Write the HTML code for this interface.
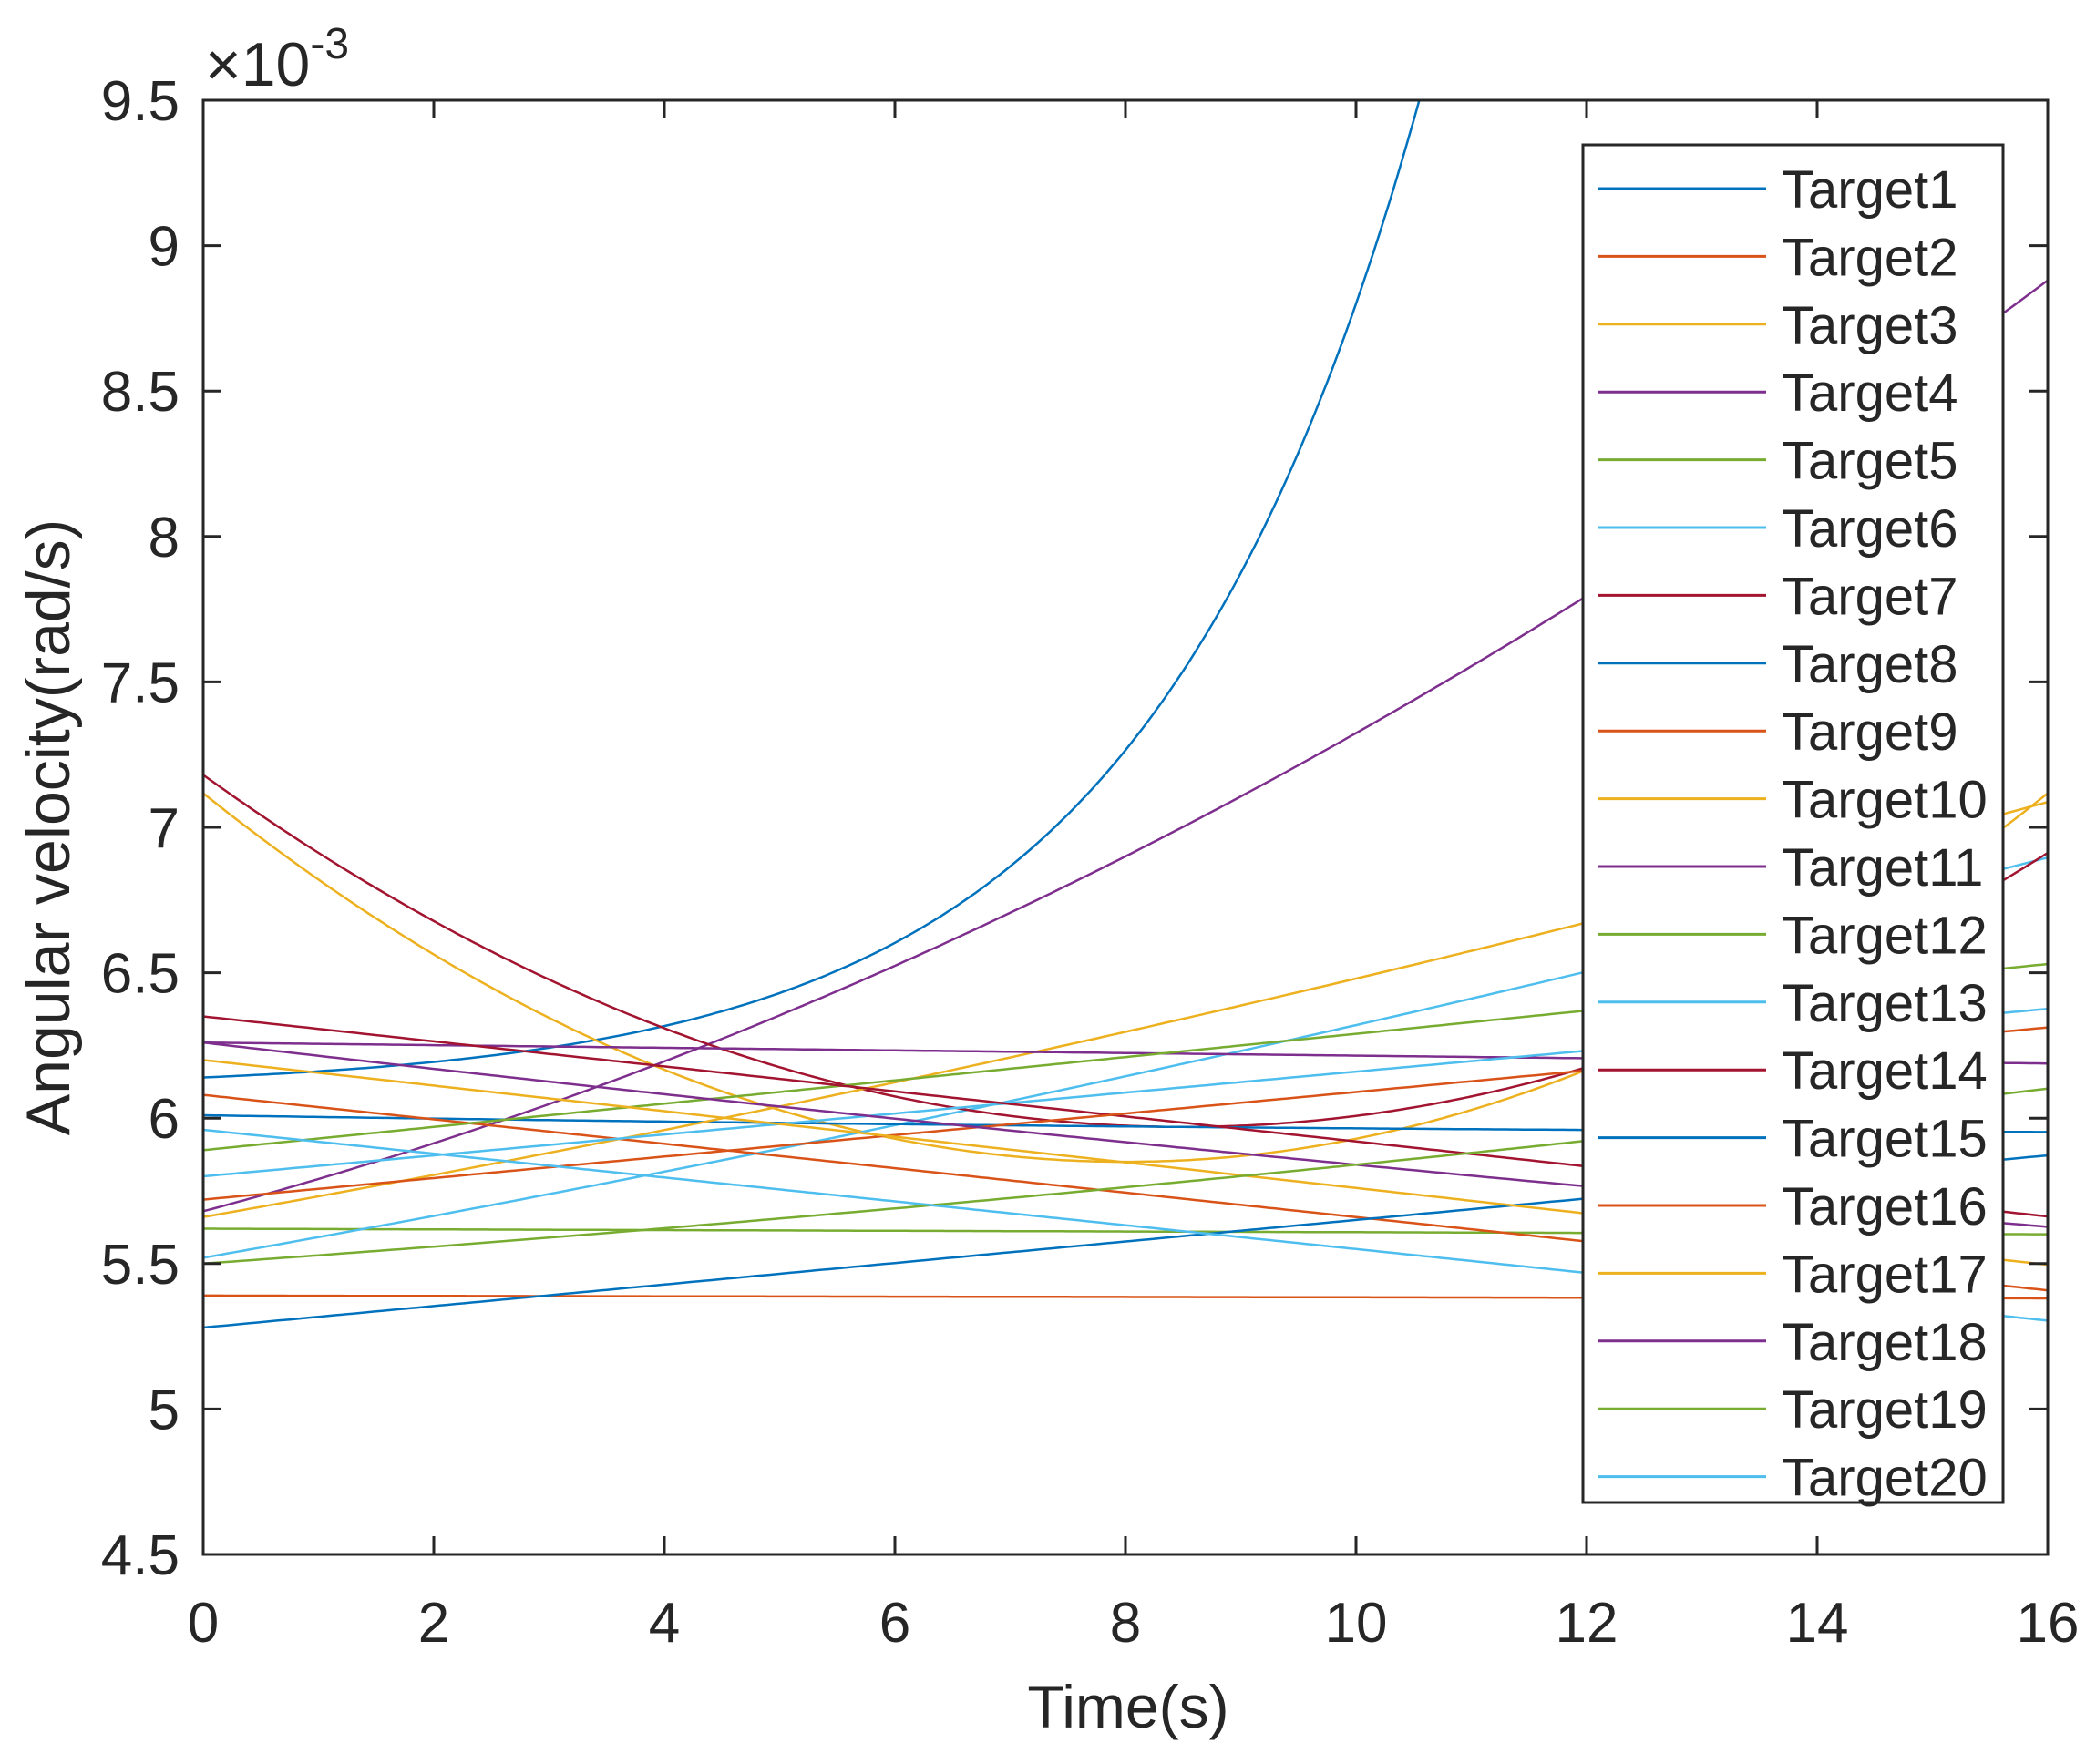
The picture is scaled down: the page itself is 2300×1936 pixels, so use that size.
<!DOCTYPE html>
<html><head><meta charset="utf-8"><style>
html,body{margin:0;padding:0;background:#fff}
svg text{font-family:"Liberation Sans",Arial,sans-serif;fill:#262626}
</style></head><body>
<svg id="s" width="2300" height="1931" viewBox="0 0 2300 1931" xmlns="http://www.w3.org/2000/svg">
<defs><clipPath id="c"><rect x="223" y="110" width="2024" height="1596"/></clipPath></defs>
<rect x="0" y="0" width="2300" height="1931" fill="#fff"/>
<g id="series" clip-path="url(#c)" fill="none" stroke-width="2.5"></g>
<g id="axes"></g>
<g id="legend"></g>
</svg>
<script>
var X0=223,X1=2247,Y0=110,Y1=1706;
function px(t){return X0+(X1-X0)*t/16}
function py(v){return Y1-(v-4.5)*(Y1-Y0)/5}
var C=['#0072BD','#D95319','#EDB120','#7E2F8E','#77AC30','#4DBEEE','#A2142F'];
var F=[
function(t){return 6.14+0.0405*(Math.exp(0.42*t)-1)},
function(t){return 5.39-0.0006*t},
function(t){return 0.0198*(t-8)*(t-8)+5.85},
function(t){return 5.68+0.105*t+0.00594*t*t},
function(t){return 5.62-0.0012*t},
function(t){return 5.52+0.07*t+0.001*t*t},
function(t){return 0.01675*(t-8.5)*(t-8.5)+5.97},
function(t){return 6.01-0.006*t+0.00015*t*t},
function(t){return 6.08-0.042*t},
function(t){return 5.66+0.07*t+0.0012*t*t},
function(t){return 6.26-0.0045*t},
function(t){return 5.89+0.04*t},
function(t){return 5.8+0.036*t},
function(t){return 6.35-0.043*t},
function(t){return 5.28+0.037*t},
function(t){return 5.72+0.037*t},
function(t){return 6.2-0.044*t},
function(t){return 6.26-0.046*t+0.0004*t*t},
function(t){return 5.5+0.028*t+0.0006*t*t},
function(t){return 5.96-0.041*t}
];
var NS='http://www.w3.org/2000/svg';
function el(n,a,p,txt){var e=document.createElementNS(NS,n);for(var k in a)e.setAttribute(k,a[k]);if(txt!==undefined)e.textContent=txt;p.appendChild(e);return e}
var sg=document.getElementById('series');
F.forEach(function(f,i){var d='';for(var k=0;k<=320;k++){var t=16*k/320;var v=f(t);if(v>10)v=10;d+=(k?'L':'M')+px(t).toFixed(1)+' '+py(v).toFixed(1)}
el('path',{d:d,stroke:C[i%7]},sg)});
var ax=document.getElementById('axes');
el('rect',{x:X0,y:Y0,width:X1-X0,height:Y1-Y0,fill:'none',stroke:'#262626','stroke-width':3},ax);
for(var t=0;t<=16;t+=2){var x=px(t);
el('line',{x1:x,y1:Y1,x2:x,y2:Y1-20,stroke:'#262626','stroke-width':3},ax);
el('line',{x1:x,y1:Y0,x2:x,y2:Y0+20,stroke:'#262626','stroke-width':3},ax);
el('text',{x:x,y:1802,'font-size':62,'text-anchor':'middle'},ax,String(t));}
for(var v=4.5;v<=9.51;v+=0.5){var y=py(v);
el('line',{x1:X0,y1:y,x2:X0+20,y2:y,stroke:'#262626','stroke-width':3},ax);
el('line',{x1:X1,y1:y,x2:X1-20,y2:y,stroke:'#262626','stroke-width':3},ax);
el('text',{x:197,y:y+22,'font-size':62,'text-anchor':'end'},ax,(Math.abs(v-Math.round(v))<0.01)?String(Math.round(v)):v.toFixed(1));}
el('text',{x:1238,y:1896,'font-size':66,'text-anchor':'middle'},ax,'Time(s)');
el('text',{x:0,y:0,'font-size':68,'text-anchor':'middle',transform:'translate(76,908) rotate(-90)'},ax,'Angular velocity(rad/s)');
var m=el('text',{x:225,y:94,'font-size':68},ax,'\u00d710');
el('tspan',{dy:-30,'font-size':48},m,'-3');
var lg=document.getElementById('legend');
el('rect',{x:1737,y:159,width:461,height:1490,fill:'#fff',stroke:'#262626','stroke-width':3},lg);
for(var i=0;i<20;i++){var y=207+i*74.4;
el('line',{x1:1753,y1:y,x2:1938,y2:y,stroke:C[i%7],'stroke-width':3},lg);
el('text',{x:1955,y:y+21,'font-size':58,fill:'#000'},lg,'Target'+(i+1));}
</script>
</body></html>
